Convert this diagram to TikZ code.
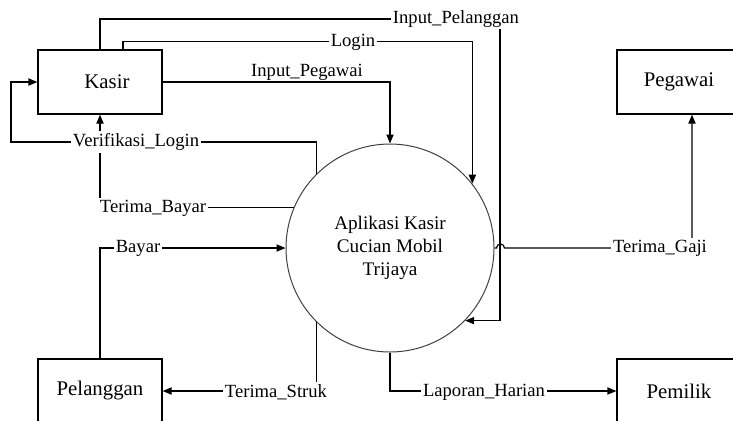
\documentclass[tikz,border=0pt]{standalone}
\usepackage{fontspec}
\setmainfont{Liberation Serif}
\usetikzlibrary{arrows.meta}

\begin{document}
\begin{tikzpicture}[x=0.5pt, y=-0.5pt, >={Triangle[length=4.5pt,width=3.6pt]}, line width=0.6pt,
		entitas/.style={draw, minimum width=62pt, minimum height=32pt, inner sep=0pt, font=\fontsize{10.4}{12}\selectfont},
		aliran/.style={fill=white, inner sep=1pt, font=\fontsize{9.3}{11}\selectfont}]
	\useasboundingbox (0,0) rectangle (733,420);
	\clip (0,0) rectangle (733,420);
	
	% 1. Entitas luar dan proses
	\node[entitas] (kasir) at (100,82) {\hspace{7pt}Kasir};
	\node[entitas] (pegawai) at (679,82) {Pegawai};
	\node[entitas] (pelanggan) at (100,391) {Pelanggan};
	\node[entitas] (pemilik) at (679,391) {Pemilik};
	\node[draw=black!75, line width=0.5pt, circle, minimum size=104pt, align=center,
		font=\fontsize{9.6}{11.5}\selectfont] (app) at (390,248) {Aplikasi Kasir\\Cucian Mobil\\Trijaya};
	\coordinate (kiri) at (11,142);
	
	% 2. Aliran data
	\draw[->] (kasir.north) |- (500,19) |- (app.-44);
	\draw[->] ([xshift=11.5pt]kasir.north) -- ++(0,-8) -| (app.38);
	\draw[->] (kasir.east) -| (app.north);
	\draw[->] (app.157) -| (kasir.south);
	\draw[->] (app.135) |- (kiri) |- (kasir.west);
	\draw[->] (pelanggan.north) |- (app.west);
	\draw[->] (app.-135) |- (pelanggan.east);
	\draw[->] (app.south) |- (pemilik.west);
	\draw[->] (app.east) -- ++(2,0) arc[start angle=180, end angle=0, radius=2pt] -| ([xshift=6.5pt]pegawai.south);
	
	% 3. Label aliran
	\node[aliran] (l-inplg) at (456,19) {Input\_Pelanggan};
	\node[aliran] (l-login) at (353,42) {Login};
	\node[aliran, fill=none, anchor=south, inner sep=0.3pt] (l-inpeg) at (307,82) {Input\_Pegawai};
	\node[aliran] (l-verif) at (136,142) {Verifikasi\_Login};
	\node[aliran] (l-tbayar) at (153,208) {Terima\_Bayar};
	\node[aliran] (l-bayar) at (138,248) {Bayar};
	\node[aliran] (l-tstruk) at (276,392) {Terima\_Struk};
	\node[aliran] (l-lapor) at (484,392) {Laporan\_Harian};
	\node[aliran] (l-tgaji) at (660,248) {Terima\_Gaji};
\end{tikzpicture}
\end{document}
